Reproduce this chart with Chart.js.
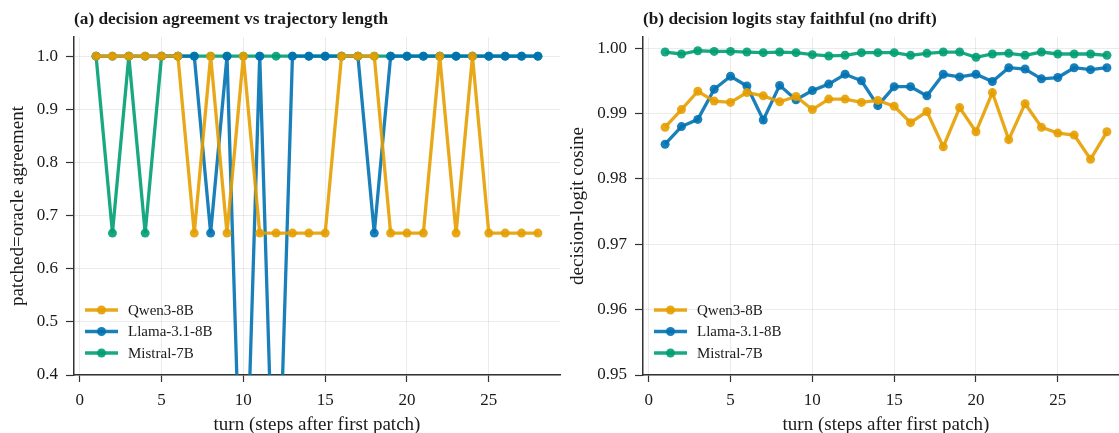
<!DOCTYPE html>
<html>
<head>
<meta charset="utf-8">
<script src="https://cdn.jsdelivr.net/npm/chart.js@4/dist/chart.umd.min.js"></script>
<style>
  html, body { margin: 0; padding: 0; background: #fff; overflow: hidden; width: 1119px; height: 433px; }
  canvas { position: absolute; top: 0; }
  #gauche { left: 0; }
  #droite { left: 570px; }
</style>
</head>
<body>
<canvas id="gauche" width="570" height="433"></canvas>
<canvas id="droite" width="570" height="433"></canvas>
<script>
// Données (tours 1..28)
const tours = [1, 2, 3, 4, 5, 6, 7, 8, 9, 10, 11, 12, 13, 14, 15, 16, 17, 18, 19, 20, 21, 22, 23, 24, 25, 26, 27, 28]

const qwenAccord    = [1, 1, 1, 1, 1, 1, 0.667, 1, 0.667, 1, 0.667, 0.667, 0.667, 0.667, 0.667, 1, 1, 1, 0.667, 0.667, 0.667, 1, 0.667, 1, 0.667, 0.667, 0.667, 0.667]
const llamaAccord   = [1, 1, 1, 1, 1, 1, 1, 0.667, 1, 0, 1, 0, 1, 1, 1, 1, 1, 0.667, 1, 1, 1, 1, 1, 1, 1, 1, 1, 1]
const mistralAccord = [1, 0.667, 1, 0.667, 1, 1, 1, 1, 1, 1, 1, 1, 1, 1, 1, 1, 1, 1, 1, 1, 1, 1, 1, 1, 1, 1, 1, 1]

const qwenCos    = [0.9879, 0.9906, 0.9934, 0.9919, 0.9917, 0.9932, 0.9927, 0.9918, 0.9926, 0.9906, 0.9922, 0.9922, 0.9917, 0.9920, 0.9911, 0.9886, 0.9903, 0.9849, 0.9909, 0.9872, 0.9932, 0.9860, 0.9915, 0.9879, 0.9870, 0.9867, 0.9830, 0.9872]
const llamaCos   = [0.9853, 0.9880, 0.9891, 0.9937, 0.9957, 0.9942, 0.9890, 0.9943, 0.9921, 0.9935, 0.9945, 0.9960, 0.9950, 0.9912, 0.9941, 0.9941, 0.9927, 0.9960, 0.9956, 0.9960, 0.9949, 0.9970, 0.9968, 0.9953, 0.9955, 0.9970, 0.9967, 0.9970]
const mistralCos = [0.9994, 0.9991, 0.9996, 0.9995, 0.9995, 0.9994, 0.9993, 0.9994, 0.9993, 0.9990, 0.9988, 0.9989, 0.9993, 0.9993, 0.9993, 0.9989, 0.9992, 0.9994, 0.9994, 0.9986, 0.9991, 0.9992, 0.9989, 0.9994, 0.9991, 0.9991, 0.9991, 0.9989]

const ticksX       = [0, 5, 10, 15, 20, 25]
const ticksAccord  = [0.4, 0.5, 0.6, 0.7, 0.8, 0.9, 1.0]
const ticksCos     = [0.95, 0.96, 0.97, 0.98, 0.99, 1.00]
const modeles      = ['Qwen3-8B', 'Llama-3.1-8B', 'Mistral-7B']

const ORANGE = 'rgba(230,159,0,0.9)'
const BLEU   = 'rgba(0,114,178,0.9)'
const VERT   = 'rgba(0,158,115,0.9)'
const AXE    = '#333333'
const GRILLE = 'rgba(0,0,0,0.08)'
const TEXTE  = '#1a1a1a'
const FONTE  = "'Liberation Serif', 'DejaVu Serif', serif"

// Titre en haut à gauche + légende en bas à gauche, dessinés à la main
const decor = {
  id: 'decor',
  afterDatasetsDraw(chart, args, opts) {
    const { ctx, chartArea } = chart
    ctx.save()
    ctx.fillStyle = TEXTE
    ctx.font = `bold 17.3px ${FONTE}`
    ctx.textBaseline = 'middle'
    ctx.textAlign = 'left'
    ctx.fillText(opts.titre, chartArea.left, 20)
    ctx.font = `15px ${FONTE}`
    chart.data.datasets.forEach((ds, i) => {
      const y = chartArea.bottom - 65 + i * 21.5
      const x0 = chartArea.left + 11
      ctx.strokeStyle = ds.borderColor
      ctx.lineWidth = 3.5
      ctx.beginPath(); ctx.moveTo(x0, y); ctx.lineTo(x0 + 33, y); ctx.stroke()
      ctx.fillStyle = ds.borderColor
      ctx.beginPath(); ctx.arc(x0 + 16.5, y, 4.5, 0, Math.PI * 2); ctx.fill()
      ctx.fillStyle = TEXTE
      ctx.fillText(ds.label, x0 + 43, y + 1)
    })
    ctx.restore()
  },
}

function serie(label, valeurs, couleur) {
  return {
    label,
    data: valeurs.map((v, i) => ({ x: tours[i], y: v })),
    borderColor: couleur, backgroundColor: couleur,
    borderWidth: 3.3, pointRadius: 4.5, pointBorderWidth: 0,
    pointBackgroundColor: couleur, tension: 0, fill: false,
  }
}

function graphique(id, titre, titreY, series, yMin, yMax, ticksY, decimales, largeurY, margeDroite, padTitreY) {
  return new Chart(document.getElementById(id), {
    type: 'line',
    data: {
      datasets: [
        serie(modeles[0], series[0], ORANGE),
        serie(modeles[1], series[1], BLEU),
        serie(modeles[2], series[2], VERT),
      ],
    },
    options: {
      responsive: false, animation: false, devicePixelRatio: 1,
      layout: { padding: { top: 37, right: margeDroite, left: 0, bottom: 0 } },
      plugins: {
        legend: { display: false }, tooltip: { enabled: false }, title: { display: false },
        decor: { titre },
      },
      scales: {
        x: {
          type: 'linear', min: -0.35, max: 29.35,
          afterBuildTicks: s => { s.ticks = ticksX.map(v => ({ value: v })) },
          afterFit: s => { s.height = 58 },
          ticks: { color: TEXTE, font: { family: FONTE, size: 17 }, padding: 8, maxRotation: 0 },
          grid: { color: GRILLE, tickColor: AXE, tickLength: 7, tickWidth: 1.2 },
          border: { color: AXE, width: 1.5 },
          title: { display: true, text: 'turn (steps after first patch)', color: TEXTE,
                   font: { family: FONTE, size: 19, lineHeight: 1 }, padding: { top: 0, bottom: -1.5 } },
        },
        y: {
          type: 'linear', min: yMin, max: yMax,
          afterBuildTicks: s => { s.ticks = ticksY.map(v => ({ value: v })) },
          afterFit: s => { s.width = largeurY },
          ticks: { color: TEXTE, font: { family: FONTE, size: 17 }, padding: 8,
                   callback: v => Number(v).toFixed(decimales) },
          grid: { color: GRILLE, tickColor: AXE, tickLength: 8, tickWidth: 1.2 },
          border: { color: AXE, width: 1.5 },
          title: { display: true, text: titreY, color: TEXTE,
                   font: { family: FONTE, size: 19, lineHeight: 1 }, padding: { top: padTitreY, bottom: 0 } },
        },
      },
    },
    plugins: [decor],
  })
}

graphique('gauche', '(a) decision agreement vs trajectory length', 'patched=oracle agreement',
  [qwenAccord, llamaAccord, mistralAccord], 0.4, 1.036, ticksAccord, 1, 74, 10, 8.5)

graphique('droite', '(b) decision logits stay faithful (no drift)', 'decision-logit cosine',
  [qwenCos, llamaCos, mistralCos], 0.95, 1.0017, ticksCos, 2, 73, 11, -1.5)
</script>
</body>
</html>
